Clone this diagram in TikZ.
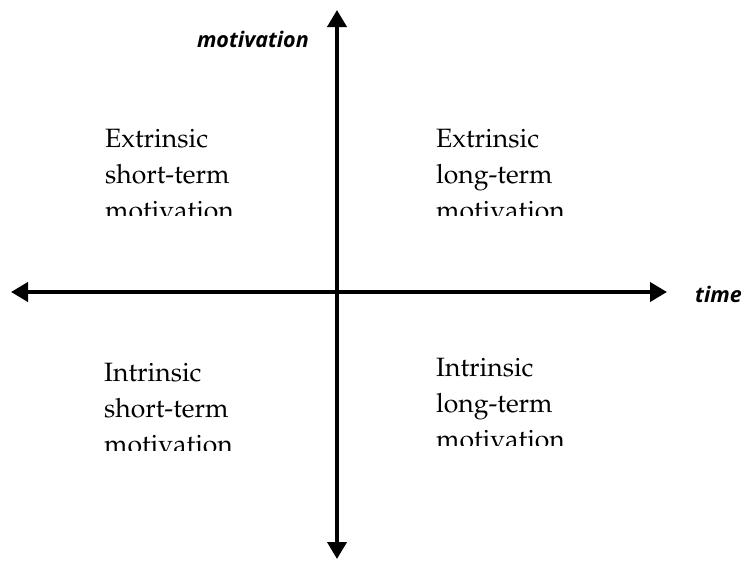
\documentclass[tikz,border=0pt]{standalone}
\usepackage[T1]{fontenc}
\usepackage{fontspec}
\newfontfamily\labelfont{Open Sans}
\usepackage{tikz}
\usetikzlibrary{arrows.meta}
\tikzset{>=latex}

\tikzset{
    axis/.style={line width=4pt, {Triangle[length=17pt,width=19pt]}-{Triangle[length=17pt,width=19pt]}},
    quad/.style={anchor=base west, inner sep=0pt, align=left,
        font=\fontencoding{T1}\fontfamily{ppl}\fontsize{26.5}{36}\selectfont},
    axislabel/.style={inner sep=0pt, font=\labelfont\bfseries\itshape\fontsize{21.5}{24}\selectfont},
}

\begin{document}
\begin{tikzpicture}[x=1pt,y=-1pt]
    \useasboundingbox (0,0) rectangle (741,560);
    \coordinate (left) at (11,292);
    \coordinate (right) at (667,292);
    \coordinate (top) at (337,10);
    \coordinate (bottom) at (337,559);
    \draw[axis] (left) -- (right);
    \draw[axis] (bottom) -- (top);
    \node[axislabel, anchor=base east] (mot) at (309,47) {motivation};
    \node[axislabel, anchor=base west] (time) at (695,302) {time};
    % quadrants, the last line is cut off
    \begin{scope}
        \clip (0,0) rectangle (330,215);
        \node[quad] (es) at (105,219) {Extrinsic\\short-term\\motivation};
    \end{scope}
    \begin{scope}
        \clip (345,0) rectangle (741,215);
        \node[quad] (el) at (436,219) {Extrinsic\\long-term\\motivation};
    \end{scope}
    \begin{scope}
        \clip (0,300) rectangle (330,450);
        \node[quad] (is) at (104,453) {Intrinsic\\short-term\\motivation};
    \end{scope}
    \begin{scope}
        \clip (345,300) rectangle (741,445);
        \node[quad] (il) at (436,448) {Intrinsic\\long-term\\motivation};
    \end{scope}
\end{tikzpicture}
\end{document}
